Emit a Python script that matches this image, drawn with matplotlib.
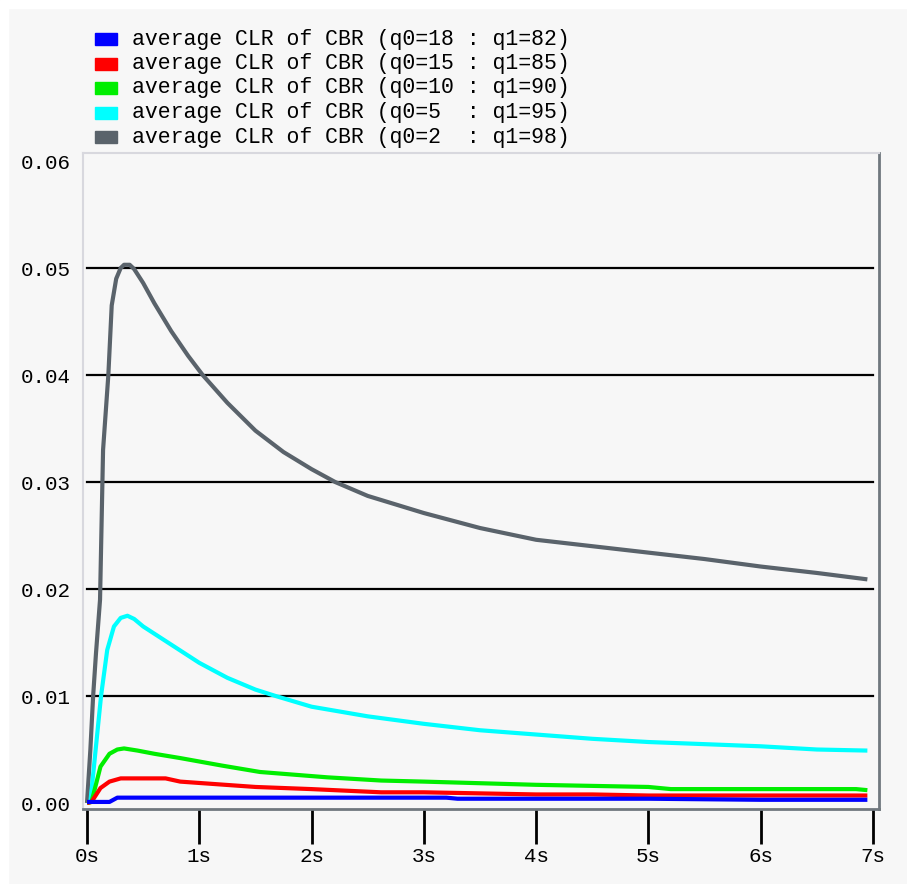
import matplotlib
matplotlib.use('Agg')
import matplotlib.pyplot as plt
from matplotlib.patches import Rectangle

# ---- data (time in s, value = average CLR) ----
t_gray = [0, 0.03, 0.054, 0.08, 0.116, 0.143, 0.19, 0.22, 0.26, 0.3, 0.33, 0.38, 0.42,
          0.5, 0.6, 0.75, 0.9, 1.03, 1.25, 1.5, 1.75, 2.0, 2.21, 2.5, 3.0, 3.5, 4.0, 4.5,
          5.0, 5.5, 6.0, 6.5, 6.95]
v_gray = [0, 0.005, 0.0099, 0.014, 0.019, 0.033, 0.040, 0.0465, 0.0490, 0.0500, 0.0503,
          0.0503, 0.0499, 0.0486, 0.0467, 0.0441, 0.0418, 0.0400, 0.0374, 0.0348, 0.0328,
          0.0312, 0.0300, 0.0287, 0.0271, 0.0257, 0.0246, 0.0240, 0.0234, 0.0228, 0.0221,
          0.0215, 0.0209]

t_cyan = [0, 0.03, 0.125, 0.18, 0.24, 0.3, 0.36, 0.42, 0.5, 0.75, 1.0, 1.25, 1.5, 1.68,
          2.0, 2.5, 3.0, 3.5, 4.0, 4.5, 5.0, 5.5, 6.0, 6.5, 6.95]
v_cyan = [0, 0.0001, 0.0100, 0.0143, 0.0165, 0.0173, 0.0175, 0.0172, 0.0165, 0.0148,
          0.0131, 0.0117, 0.0106, 0.0100, 0.0090, 0.0081, 0.0074, 0.0068, 0.0064, 0.0060,
          0.0057, 0.0055, 0.0053, 0.0050, 0.0049]

t_green = [0, 0.04, 0.12, 0.2, 0.27, 0.33, 0.45, 0.6, 0.83, 1.2, 1.54, 2.14, 2.62, 3.0,
           4.0, 5.0, 5.2, 6.0, 6.85, 6.95]
v_green = [0, 0.0001, 0.0034, 0.0046, 0.0050, 0.0051, 0.0049, 0.0046, 0.0042, 0.0035,
           0.0029, 0.0024, 0.0021, 0.0020, 0.0017, 0.0015, 0.0013, 0.0013, 0.0013, 0.0012]

t_red = [0, 0.04, 0.12, 0.2, 0.3, 0.4, 0.7, 0.83, 1.5, 2.0, 2.62, 3.0, 4.0, 4.5, 5.0,
         6.0, 6.95]
v_red = [0, 0.0001, 0.0014, 0.0020, 0.0023, 0.0023, 0.0023, 0.0020, 0.0015, 0.0013,
         0.0010, 0.0010, 0.0008, 0.0008, 0.0007, 0.0007, 0.0007]

t_blue = [0, 0.2, 0.27, 1.0, 2.0, 3.2, 3.3, 5.0, 6.0, 6.95]
v_blue = [0.0001, 0.0001, 0.0005, 0.0005, 0.0005, 0.0005, 0.0004, 0.0004, 0.0003, 0.0003]

labels = ['average CLR of CBR (q0=18 : q1=82)',
          'average CLR of CBR (q0=15 : q1=85)',
          'average CLR of CBR (q0=10 : q1=90)',
          'average CLR of CBR (q0=5  : q1=95)',
          'average CLR of CBR (q0=2  : q1=98)']
colors = ['#0000ff', '#ff0000', '#00ee00', '#00ffff', '#5a636b']

y_ticks = [0.0, 0.01, 0.02, 0.03, 0.04, 0.05, 0.06]
y_ticklabels = ['0.00', '0.01', '0.02', '0.03', '0.04', '0.05', '0.06']
x_ticks = [0, 1, 2, 3, 4, 5, 6, 7]
x_ticklabels = ['0s', '1s', '2s', '3s', '4s', '5s', '6s', '7s']

mono = 'Liberation Mono'
W, H = 907, 884
bg = '#f7f7f7'

fig = plt.figure(figsize=(W / 100, H / 100), dpi=100, facecolor=bg)
# white strips on the left and top edge
fig.patches.append(Rectangle((0, 0), 8 / W, 1, transform=fig.transFigure, color='white', zorder=-1))
fig.patches.append(Rectangle((0, 1 - 8 / H), 1, 8 / H, transform=fig.transFigure, color='white', zorder=-1))

ax = fig.add_axes([83 / W, 1 - 809 / H, (879 - 83) / W, (809 - 153) / H])
ax.set_facecolor(bg)

series = [(t_blue, v_blue), (t_red, v_red), (t_green, v_green), (t_cyan, v_cyan), (t_gray, v_gray)]

# grid lines (not at 0 and 0.06)
for yv in y_ticks[1:-1]:
    ax.plot([0, 7], [yv, yv], color='black', lw=1.6, zorder=1)

# draw back to front: gray first so the small ones sit on top
for (t, v), c in reversed(list(zip(series, colors))):
    ax.plot(t, v, color=c, lw=3, solid_capstyle='butt', solid_joinstyle='round', zorder=2)

ax.set_xlim(-4 / 112, 7 + 6 / 112)
ax.set_ylim(-0.00056, 0.06 + 0.01 * 8 / 107)

ax.set_yticks(y_ticks)
ax.set_yticklabels(y_ticklabels, fontfamily=mono, fontsize=15)
ax.tick_params(axis='y', length=0, pad=9)
ax.set_xticks(x_ticks)
ax.set_xticklabels(x_ticklabels, fontfamily=mono, fontsize=15)
ax.tick_params(axis='x', length=25, width=2, color='black', pad=2)

for s in ['left', 'top']:
    ax.spines[s].set_color('#d8d8de')
    ax.spines[s].set_linewidth(1.5)
for s in ['right', 'bottom']:
    ax.spines[s].set_color('#70787e')
    ax.spines[s].set_linewidth(2)

# legend drawn by hand at the top of the figure
for i, (lab, c) in enumerate(zip(labels, colors)):
    yc = 39 + i * 24.5
    fig.patches.append(Rectangle((95 / W, 1 - (yc + 6) / H), 22 / W, 12 / H,
                                 transform=fig.transFigure, color=c))
    fig.text(132 / W, 1 - yc / H, lab, fontfamily=mono, fontsize=15.5,
             va='center', ha='left')

fig.savefig('out.png', dpi=100, facecolor=bg)
